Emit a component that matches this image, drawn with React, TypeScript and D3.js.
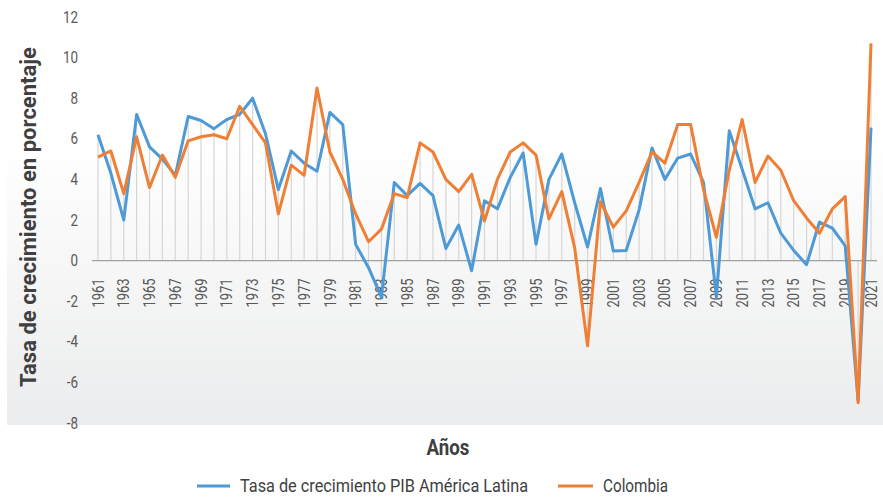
import React from 'react'
import * as d3 from 'd3'

const years = d3.range(1961, 2022)
const latam = [
  6.2, 4.3, 2.0, 7.2, 5.6, 5.0, 4.2, 7.1, 6.9, 6.5,
  6.95, 7.2, 8.0, 6.25, 3.5, 5.4, 4.8, 4.4, 7.3, 6.7,
  0.8, -0.35, -1.8, 3.85, 3.2, 3.8, 3.2, 0.6, 1.75, -0.5,
  2.95, 2.55, 4.1, 5.3, 0.8, 4.0, 5.25, 2.85, 0.67, 3.55,
  0.47, 0.5, 2.5, 5.55, 4.0, 5.05, 5.25, 3.85, -1.8, 6.4,
  4.5, 2.55, 2.85, 1.35, 0.5, -0.2, 1.9, 1.6, 0.72, -6.9,
  6.55,
]
const colombia = [
  5.1, 5.4, 3.3, 6.1, 3.6, 5.2, 4.1, 5.9, 6.1, 6.2,
  6.0, 7.6, 6.7, 5.8, 2.3, 4.7, 4.2, 8.5, 5.35, 4.0,
  2.3, 0.93, 1.55, 3.3, 3.1, 5.8, 5.35, 4.0, 3.4, 4.25,
  1.95, 4.0, 5.35, 5.8, 5.2, 2.05, 3.4, 0.63, -4.2, 2.9,
  1.65, 2.45, 3.85, 5.35, 4.8, 6.7, 6.7, 3.5, 1.15, 4.45,
  6.95, 3.85, 5.15, 4.45, 2.95, 2.1, 1.35, 2.55, 3.15, -7.0,
  10.7,
]
const yTicks = [12, 10, 8, 6, 4, 2, 0, -2, -4, -6, -8]
const seriesNames = ['Tasa de crecimiento PIB América Latina', 'Colombia']
const seriesColors = ['#4e9ad6', '#f07f36']

const W = 883
const H = 497
const FONT = 'Roboto, "Noto Sans", sans-serif'

export default function App() {
  const x = d3.scalePoint<number>().domain(years).range([98, 871])
  const y = d3.scaleLinear().domain([-8, 12]).range([423, 17])
  const line = d3
    .line<number>()
    .x((_, i) => x(years[i]) as number)
    .y(d => y(d))

  const all = [latam, colombia]

  return (
    <svg
      width={W}
      height={H}
      style={{ position: 'absolute', left: 0, top: 0, display: 'block', fontFamily: FONT }}
    >
      <defs>
        <linearGradient id="bg" x1="0" y1="0" x2="0" y2="1">
          <stop offset="0" stopColor="#ffffff" />
          <stop offset="1" stopColor="#ebeced" />
        </linearGradient>
      </defs>
      <rect x={0} y={0} width={W} height={H} fill="#fff" />
      <rect x={7} y={140} width={W - 7} height={285} fill="url(#bg)" />

      {/* drop lines */}
      <g stroke="#d6d6d6" strokeWidth={1.2}>
        {years.map((yr, i) => {
          const vals = [latam[i], colombia[i]]
          const hi = Math.max(0, ...vals)
          const lo = Math.min(0, ...vals)
          return <line key={yr} x1={x(yr)} x2={x(yr)} y1={y(lo)} y2={y(hi)} />
        })}
      </g>

      {/* axis line */}
      <line x1={92} x2={877} y1={y(0)} y2={y(0)} stroke="#a0a0a0" strokeWidth={1.3} />

      {/* y tick labels */}
      <g fill="#595959" fontSize={16} textAnchor="end">
        {yTicks.map(t => (
          <text key={t} transform={`translate(78,${y(t)}) scale(0.84,1)`} dy="0.35em">
            {t}
          </text>
        ))}
      </g>

      {/* x tick labels */}
      <g fill="#595959" fontSize={16} textAnchor="end">
        {years
          .filter((_, i) => i % 2 === 0)
          .map(yr => (
            <text
              key={yr}
              transform={`translate(${x(yr)},${y(0) + 18}) rotate(-90)`}
              dy="0.35em"
              textLength={29}
              lengthAdjust="spacingAndGlyphs"
            >
              {yr}
            </text>
          ))}
      </g>

      {/* series */}
      {all.map((s, k) => (
        <path
          key={k}
          d={line(s) || ''}
          fill="none"
          stroke={seriesColors[k]}
          strokeWidth={3}
          strokeLinejoin="round"
        />
      ))}

      {/* titles */}
      <text
        transform={`translate(28,217) rotate(-90)`}
        textAnchor="middle"
        dy="0.35em"
        fontSize={22}
        fontWeight="bold"
        fill="#404040"
        textLength={340}
        lengthAdjust="spacingAndGlyphs"
      >
        Tasa de crecimiento en porcentaje
      </text>
      <text
        x={448}
        y={447}
        textAnchor="middle"
        dy="0.35em"
        fontSize={22}
        fontWeight="bold"
        fill="#404040"
        textLength={43}
        lengthAdjust="spacingAndGlyphs"
      >
        Años
      </text>

      {/* legend */}
      <g fontSize={19} fill="#404040">
        <line x1={197} x2={230} y1={486} y2={486} stroke={seriesColors[0]} strokeWidth={3} />
        <text x={240} y={492} textLength={288} lengthAdjust="spacingAndGlyphs">
          {seriesNames[0]}
        </text>
        <line x1={558} x2={593} y1={486} y2={486} stroke={seriesColors[1]} strokeWidth={3} />
        <text x={603} y={492} textLength={65} lengthAdjust="spacingAndGlyphs">
          {seriesNames[1]}
        </text>
      </g>
    </svg>
  )
}
